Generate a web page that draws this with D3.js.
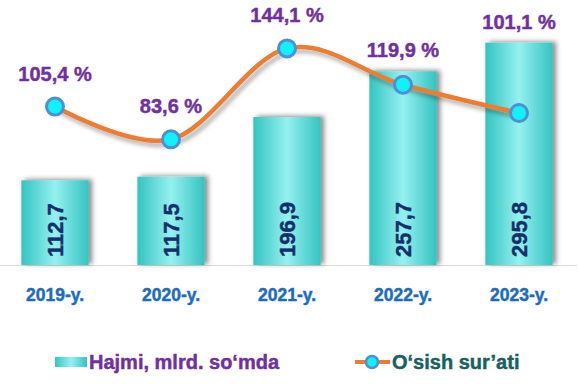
<!DOCTYPE html>
<html lang="uz">

<head>
  <meta charset="utf-8">
  <title>Hajmi va o'sish sur'ati</title>
  <script src="https://d3js.org/d3.v7.min.js"></script>
  <style>
    body {
      margin: 0;
      background: #fff;
    }
    text {
      font-family: "Liberation Sans", Arial, sans-serif;
      font-weight: bold;
      stroke-width: 0.45px;
      paint-order: stroke;
    }
    .pct {
      font-size: 20px;
      fill: #7030a0;
      stroke: #7030a0;
    }
    .val {
      font-size: 22px;
      fill: #142f6a;
      stroke: #142f6a;
    }
    .cat {
      font-size: 17.5px;
      fill: #1c6cc0;
      stroke: #1c6cc0;
    }
    .leg {
      font-size: 20px;
    }
  </style>
</head>

<body>
  <svg width="579" height="384"></svg>

  <script>
    var years = ["2019-y.", "2020-y.", "2021-y.", "2022-y.", "2023-y."];
    var hajmi = [112.7, 117.5, 196.9, 257.7, 295.8];
    var osish = [105.4, 83.6, 144.1, 119.9, 101.1];
    var legendLabels = ["Hajmi, mlrd. so\u2018mda", "O\u2018sish sur\u2019ati"];

    var fmt = v => d3.format(".1f")(v).replace(".", ",");

    var svg = d3.select("svg"),
      width = +svg.attr("width"),
      height = +svg.attr("height");

    var baseY = 265;

    var x = d3.scaleBand()
      .domain(years)
      .range([-3, 577])
      .paddingInner(0.42)
      .paddingOuter(0.21);

    // bars (left axis) and growth (right axis) share the same zero line
    var y = d3.scaleLinear().domain([0, 330]).range([baseY, 17]);
    var y2 = d3.scaleLinear().domain([0, 165]).range([baseY, 17]);

    var defs = svg.append("defs");
    var grad = defs.append("linearGradient").attr("id", "barGrad")
      .attr("x1", "0").attr("x2", "1").attr("y1", "0").attr("y2", "0");
    grad.append("stop").attr("offset", "0%").attr("stop-color", "#33c4c2");
    grad.append("stop").attr("offset", "50%").attr("stop-color", "#95f1f0");
    grad.append("stop").attr("offset", "100%").attr("stop-color", "#33c4c2");

    var sh = defs.append("filter").attr("id", "barShadow")
      .attr("x", "-20%").attr("y", "-20%").attr("width", "150%").attr("height", "140%");
    sh.append("feDropShadow").attr("dx", 3.5).attr("dy", -1).attr("stdDeviation", 2.5)
      .attr("flood-color", "#000").attr("flood-opacity", 0.45);

    var lsh = defs.append("filter").attr("id", "lineShadow")
      .attr("x", "-10%").attr("y", "-30%").attr("width", "120%").attr("height", "160%");
    lsh.append("feDropShadow").attr("dx", 3).attr("dy", 4).attr("stdDeviation", 2)
      .attr("flood-color", "#000").attr("flood-opacity", 0.3);

    // base line
    svg.append("line")
      .attr("x1", 0).attr("x2", 577)
      .attr("y1", baseY + 0.5).attr("y2", baseY + 0.5)
      .attr("stroke", "#d9d9d9").attr("stroke-width", 1);

    // BARS
    svg.append("g").selectAll("rect")
      .data(hajmi)
      .enter().append("rect")
      .attr("x", (d, i) => x(years[i]))
      .attr("y", d => y(d))
      .attr("width", x.bandwidth())
      .attr("height", d => baseY - y(d))
      .attr("fill", "url(#barGrad)")
      .attr("filter", "url(#barShadow)");

    // valores nas barras, rotacionados
    svg.append("g").selectAll("text")
      .data(hajmi)
      .enter().append("text")
      .attr("class", "val")
      .attr("transform", (d, i) =>
        "translate(" + (x(years[i]) + x.bandwidth() / 2) + "," + (baseY - 8) + ") rotate(-90)")
      .attr("dy", "0.36em")
      .text(d => fmt(d));

    // category labels
    svg.append("g").selectAll("text")
      .data(years)
      .enter().append("text")
      .attr("class", "cat")
      .attr("x", d => x(d) + x.bandwidth() / 2)
      .attr("y", 301)
      .attr("text-anchor", "middle")
      .text(d => d);

    // LINE
    var cx = i => x(years[i]) + x.bandwidth() / 2;
    var line = d3.line()
      .x((d, i) => cx(i))
      .y(d => y2(d))
      .curve(d3.curveCardinal);

    svg.append("path")
      .datum(osish)
      .attr("d", line)
      .attr("fill", "none")
      .attr("stroke", "#ed7d31")
      .attr("stroke-width", 4.5)
      .attr("stroke-linecap", "round")
      .attr("filter", "url(#lineShadow)");

    svg.append("g").selectAll("circle")
      .data(osish)
      .enter().append("circle")
      .attr("cx", (d, i) => cx(i))
      .attr("cy", d => y2(d))
      .attr("r", 8.5)
      .attr("fill", "#10f2fa")
      .attr("stroke", "#4f8fd2")
      .attr("stroke-width", 3);

    // percent labels: above the point, or above the bar when the bar is taller
    svg.append("g").selectAll("text")
      .data(osish)
      .enter().append("text")
      .attr("class", "pct")
      .attr("x", (d, i) => cx(i))
      .attr("y", (d, i) => {
        var py = y2(d), by = y(hajmi[i]);
        return py < by ? py - 26 : by - 14;
      })
      .attr("text-anchor", "middle")
      .text(d => fmt(d) + " %");

    // LEGEND
    var leg = svg.append("g");
    leg.append("rect")
      .attr("x", 55).attr("y", 357).attr("width", 32).attr("height", 10)
      .attr("fill", "url(#barGrad)");
    leg.append("text")
      .attr("class", "leg")
      .attr("x", 89).attr("y", 369)
      .attr("fill", "#7030a0").attr("stroke", "#7030a0")
      .text(legendLabels[0]);

    leg.append("line")
      .attr("x1", 355).attr("x2", 390).attr("y1", 362).attr("y2", 362)
      .attr("stroke", "#ed7d31").attr("stroke-width", 4);
    leg.append("circle")
      .attr("cx", 372).attr("cy", 362).attr("r", 6)
      .attr("fill", "#10f2fa").attr("stroke", "#4f8fd2").attr("stroke-width", 2.5);
    leg.append("text")
      .attr("class", "leg")
      .attr("x", 392).attr("y", 369)
      .attr("fill", "#17615e").attr("stroke", "#17615e")
      .text(legendLabels[1]);
  </script>

</body>

</html>
